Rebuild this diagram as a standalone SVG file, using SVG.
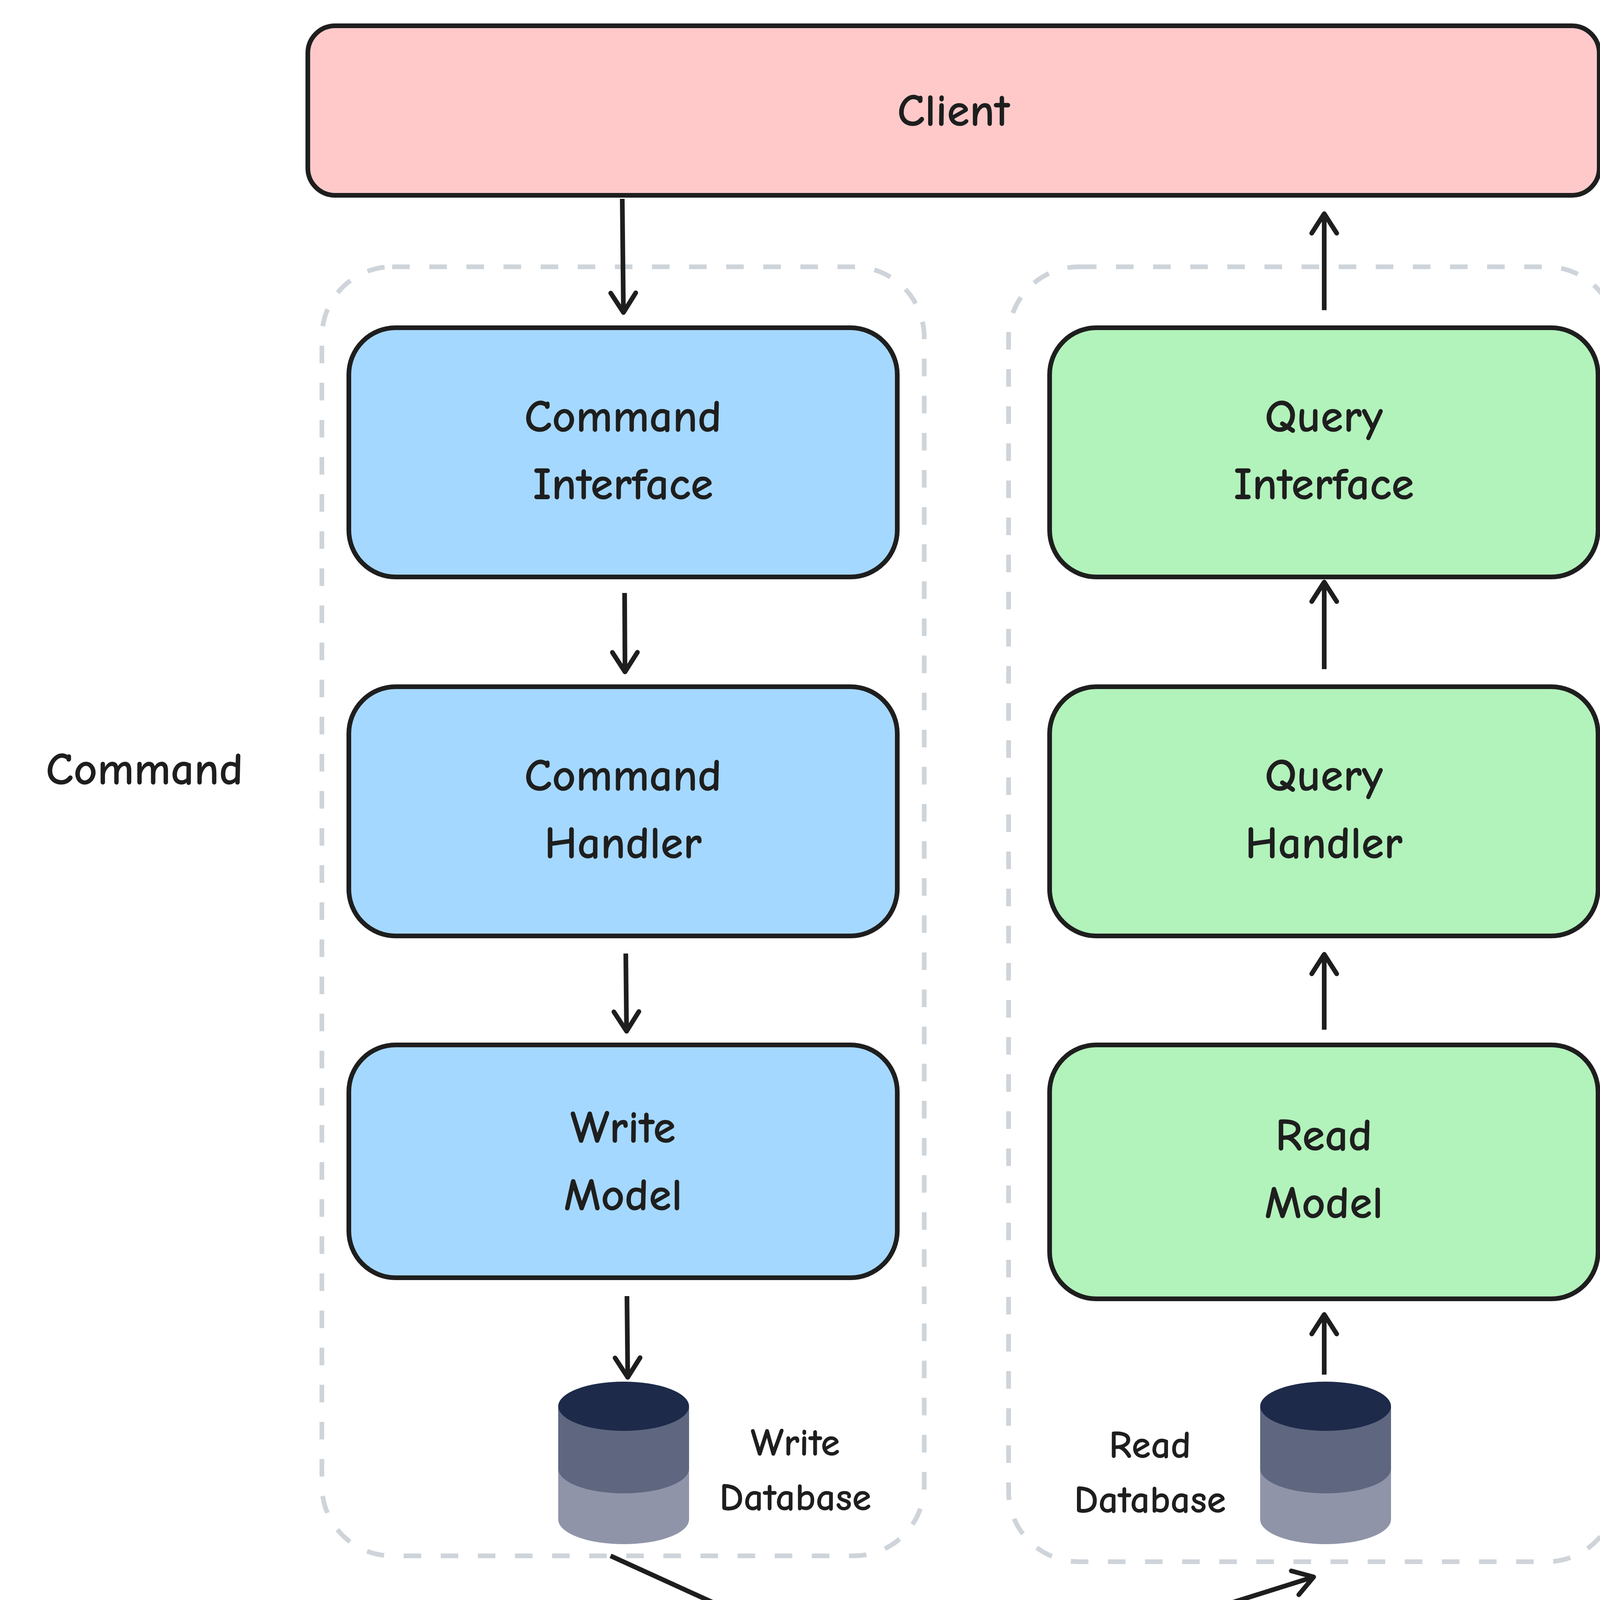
<svg xmlns="http://www.w3.org/2000/svg" width="4672" height="4372" viewBox="0 0 4672 4372">
<style>
.n{stroke:#1e1e1e;stroke-width:12}
.g{fill:none;stroke:#ced4da;stroke-width:12;stroke-dasharray:45 50}
.t{font-family:"Comic Neue","Liberation Sans",sans-serif;font-size:118px;font-weight:600;fill:#1e1e1e;text-anchor:middle}
.s{font-size:100px}
.c{stroke:#1e1e1e;stroke-width:12;fill:none;marker-end:url(#a)}
</style>
<defs>
<marker id="a" markerWidth="12" markerHeight="12" refX="10" refY="6" orient="auto" markerUnits="userSpaceOnUse" viewBox="0 0 12 12" style="overflow:visible">
<path d="M-40 -26 L10 6 L-40 38" fill="none" stroke="#1e1e1e" stroke-width="12" stroke-linecap="round" stroke-linejoin="round"/>
</marker>
</defs>
<rect width="4672" height="4372" fill="#fff"/>
<rect class="g" x="824" y="683" width="1542" height="3300" rx="180"/>
<rect class="g" x="2582" y="683" width="1557" height="3315" rx="180"/>
<g id="client"><rect class="n" x="788" y="66" width="3306" height="434" rx="70" fill="#ffc9c9"/><text class="t" x="2441" y="322">Client</text></g>
<g id="cmdif"><rect class="n" x="893" y="839" width="1404" height="638" rx="120" fill="#a5d8ff"/><text class="t" x="1595" y="1105">Command</text><text class="t" x="1595" y="1278">Interface</text></g>
<g id="cmdh"><rect class="n" x="893" y="1758" width="1404" height="638" rx="120" fill="#a5d8ff"/><text class="t" x="1595" y="2024">Command</text><text class="t" x="1595" y="2197">Handler</text></g>
<g id="wm"><rect class="n" x="893" y="2675" width="1404" height="596" rx="120" fill="#a5d8ff"/><text class="t" x="1595" y="2925">Write</text><text class="t" x="1595" y="3098">Model</text></g>
<g id="qif"><rect class="n" x="2687" y="839" width="1404" height="638" rx="120" fill="#b2f2bb"/><text class="t" x="3389" y="1105">Query</text><text class="t" x="3389" y="1278">Interface</text></g>
<g id="qh"><rect class="n" x="2687" y="1758" width="1404" height="638" rx="120" fill="#b2f2bb"/><text class="t" x="3389" y="2024">Query</text><text class="t" x="3389" y="2197">Handler</text></g>
<g id="rm"><rect class="n" x="2687" y="2675" width="1404" height="650" rx="120" fill="#b2f2bb"/><text class="t" x="3389" y="2945">Read</text><text class="t" x="3389" y="3118">Model</text></g>
<g id="lcmd"><text class="t" x="370" y="2008">Command</text></g>
<g id="lq"><text class="t" x="4420" y="2008">Query</text></g>
<g id="wdb">
<path d="M1429 3600 V3890 A167.5 63 0 0 0 1764 3890 V3600 Z" fill="#8f94a8"/>
<path d="M1429 3600 V3760 A167.5 63 0 0 0 1764 3760 V3600 Z" fill="#5f6780"/>
<ellipse cx="1596.5" cy="3600" rx="167.5" ry="63" fill="#1e2a4a"/>
<text class="t s" x="2036" y="3726">Write</text><text class="t s" x="2036" y="3866">Database</text></g>
<g id="rdb">
<path d="M3226 3600 V3890 A167.5 63 0 0 0 3561 3890 V3600 Z" fill="#8f94a8"/>
<path d="M3226 3600 V3760 A167.5 63 0 0 0 3561 3760 V3600 Z" fill="#5f6780"/>
<ellipse cx="3393.5" cy="3600" rx="167.5" ry="63" fill="#1e2a4a"/>
<text class="t s" x="2944" y="3732">Read</text><text class="t s" x="2944" y="3872">Database</text></g>
<g id="bus"><rect class="n" x="2090" y="4109" width="734" height="213" rx="30" fill="#d0bfff"/><text class="t" x="2457" y="4253" style="font-size:106px">Event Bus</text></g>
<g id="connectors">
<path class="c" d="M1593 509 L1596 800"/>
<path class="c" d="M1599 1518 L1600 1720"/>
<path class="c" d="M1602 2441 L1604 2640"/>
<path class="c" d="M1605 3318 L1607 3526"/>
<path class="c" d="M3390 794 L3390 547"/>
<path class="c" d="M3390 1713 L3390 1490"/>
<path class="c" d="M3390 2636 L3390 2443"/>
<path class="c" d="M3390 3519 L3390 3365"/>
<path class="c" d="M1563 3983 L2088 4222"/>
<path class="c" d="M2866 4193 L3363 4037"/>
</g>
</svg>
